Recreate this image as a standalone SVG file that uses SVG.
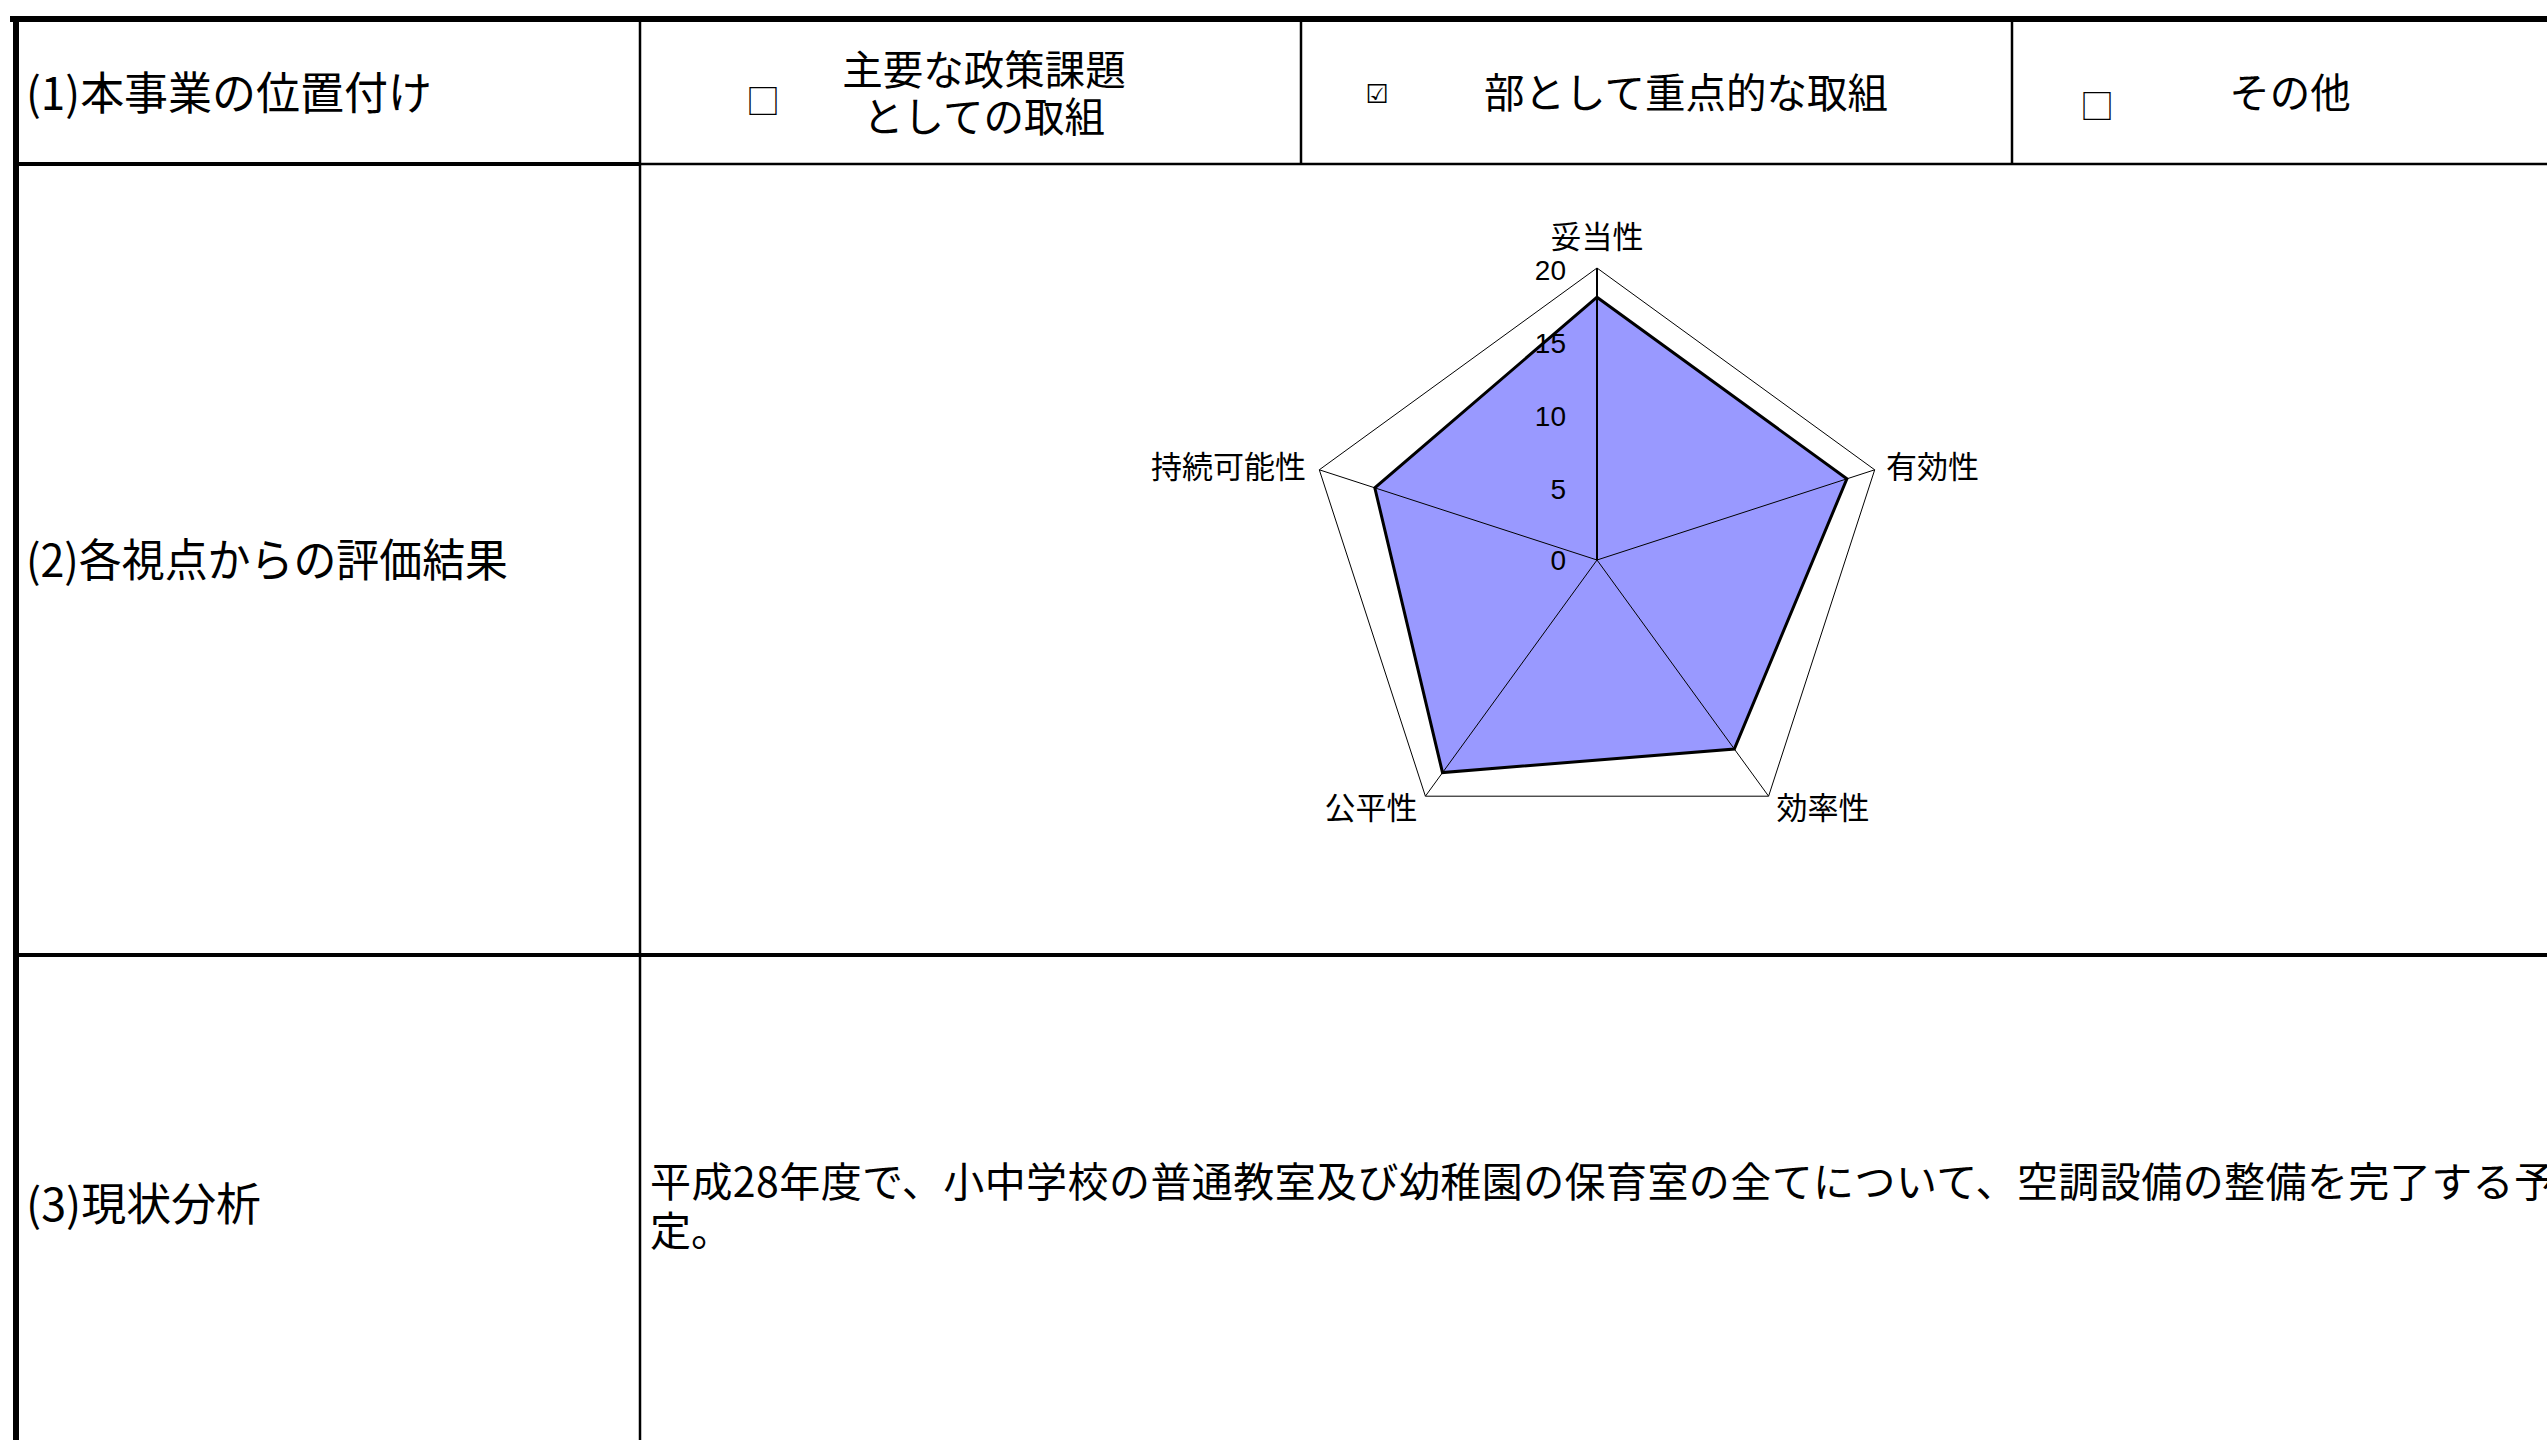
<svg xmlns="http://www.w3.org/2000/svg" width="2547" height="1440" viewBox="0 0 2547 1440">
<style>
text{font-family:"Noto Sans CJK JP","Noto Sans CJK SC",sans-serif;fill:#000}
.lbl{font-size:45px}
.hdr{font-size:40.5px}
.body{font-size:41px}
.ax{font-size:31px}
.tick{font-size:28px;font-family:"Liberation Sans","Noto Sans CJK JP",sans-serif;text-anchor:end}
.box{font-size:34px}
.thick{stroke:#000;stroke-width:6;fill:none}
.mid{stroke:#000;stroke-width:4;fill:none}
.thin{stroke:#000;stroke-width:2.5;fill:none}
.hair{stroke:#000;stroke-width:1;fill:none}
</style>
<rect x="0" y="0" width="2547" height="1440" fill="#fff"/>
<g id="table">
<line class="thick" x1="10" y1="19" x2="2547" y2="19"/>
<line class="thick" x1="16" y1="16" x2="16" y2="1440"/>
<line class="mid" x1="16" y1="164" x2="640" y2="164"/>
<line class="thin" x1="640" y1="164" x2="2547" y2="164"/>
<line class="mid" x1="16" y1="955" x2="2547" y2="955"/>
<line class="thin" x1="640" y1="19" x2="640" y2="1440"/>
<line class="thin" x1="1301" y1="19" x2="1301" y2="164"/>
<line class="thin" x1="2012" y1="19" x2="2012" y2="164"/>
</g>
<g id="row1">
<text class="lbl" x="26" y="110" textLength="406" lengthAdjust="spacingAndGlyphs">(1)本事業の位置付け</text>
<text class="box" x="763" y="114" text-anchor="middle">□</text>
<text class="hdr" x="984" y="85" text-anchor="middle">主要な政策課題</text>
<text class="hdr" x="984" y="132" text-anchor="middle">としての取組</text>
<text x="1377" y="103" text-anchor="middle" style="font-family:'DejaVu Sans',sans-serif;font-size:26px">☑</text>
<text class="hdr" x="1686" y="108" text-anchor="middle">部として重点的な取組</text>
<text class="box" x="2097" y="119" text-anchor="middle">□</text>
<text class="hdr" x="2290" y="108" text-anchor="middle">その他</text>
</g>
<g id="row2">
<text class="lbl" x="26" y="577" textLength="482" lengthAdjust="spacingAndGlyphs">(2)各視点からの評価結果</text>
</g>
<g id="radar">
<polygon points="1597,297.2 1846.9,478.8 1734.3,749 1442.5,772.6 1374.8,487.8" fill="#9999FF" stroke="none"/>
<g id="spokes">
<line class="hair" x1="1597" y1="560" x2="1874.7" y2="469.8"/>
<line class="hair" x1="1597" y1="560" x2="1768.6" y2="796.2"/>
<line class="hair" x1="1597" y1="560" x2="1425.4" y2="796.2"/>
<line class="hair" x1="1597" y1="560" x2="1319.3" y2="469.8"/>
<line stroke="#000" stroke-width="2" x1="1597" y1="560" x2="1597" y2="268"/>
</g>
<polygon class="hair" points="1597,268 1874.7,469.8 1768.6,796.2 1425.4,796.2 1319.3,469.8"/>
<polygon points="1597,297.2 1846.9,478.8 1734.3,749 1442.5,772.6 1374.8,487.8" fill="none" stroke="#000" stroke-width="3" stroke-linejoin="miter"/>
<text class="tick" x="1566" y="280">20</text>
<text class="tick" x="1566" y="353">15</text>
<text class="tick" x="1566" y="426">10</text>
<text class="tick" x="1566" y="499">5</text>
<text class="tick" x="1566" y="570">0</text>
<text class="ax" x="1597" y="248" text-anchor="middle">妥当性</text>
<text class="ax" x="1886" y="478">有効性</text>
<text class="ax" x="1823" y="819" text-anchor="middle">効率性</text>
<text class="ax" x="1371" y="819" text-anchor="middle">公平性</text>
<text class="ax" x="1306" y="478" text-anchor="end">持続可能性</text>
</g>
<g id="row3">
<text class="lbl" x="26" y="1221" textLength="235" lengthAdjust="spacingAndGlyphs">(3)現状分析</text>
<text class="body" x="650" y="1197" textLength="1905" lengthAdjust="spacing">平成28年度で、小中学校の普通教室及び幼稚園の保育室の全てについて、空調設備の整備を完了する予</text>
<text class="body" x="650" y="1246">定。</text>
</g>
</svg>
